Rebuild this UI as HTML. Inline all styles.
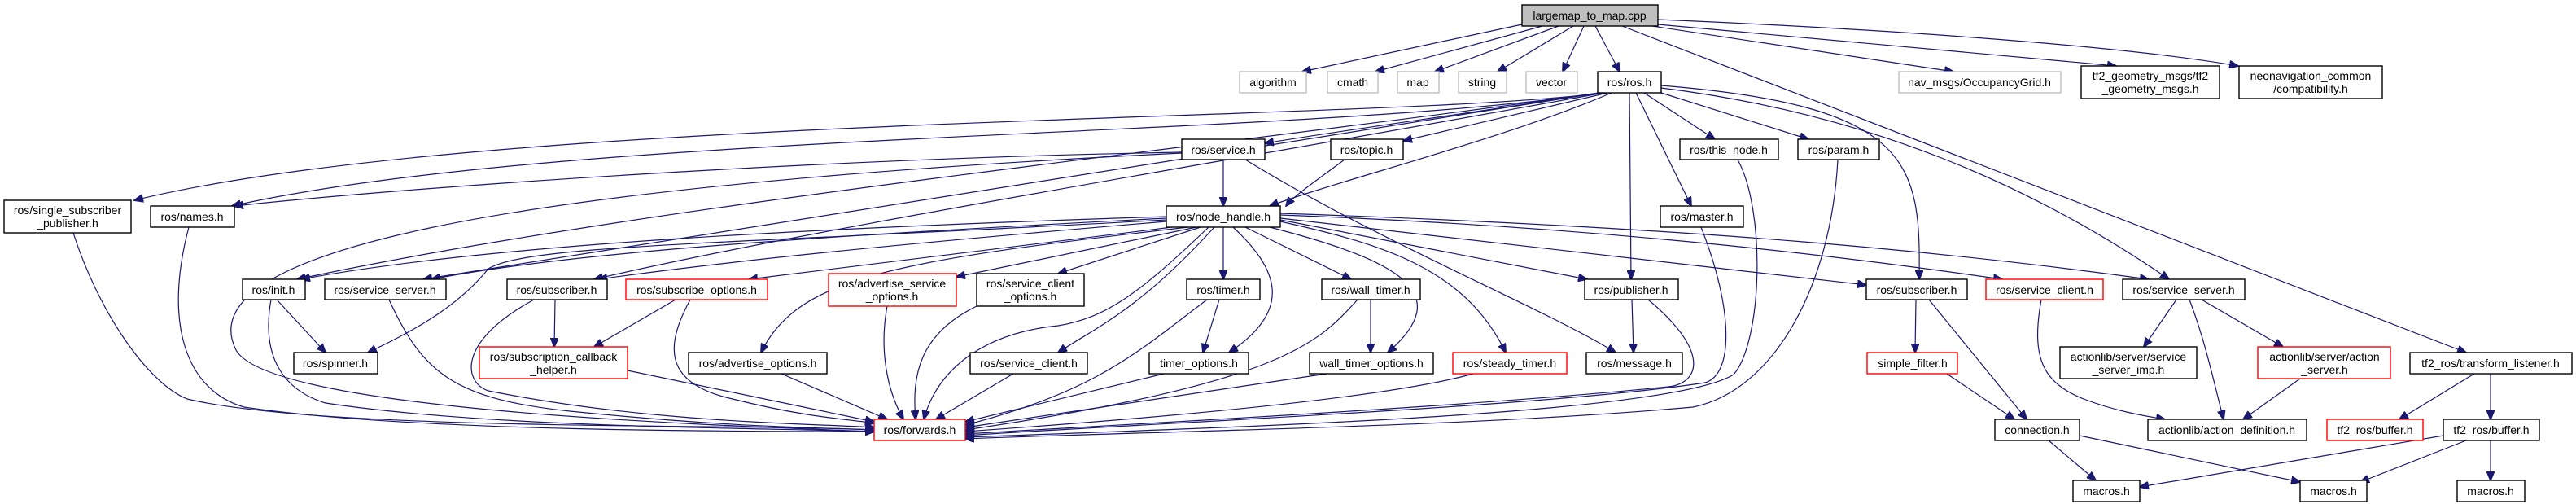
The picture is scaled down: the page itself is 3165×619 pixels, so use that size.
<!DOCTYPE html>
<html><head><meta charset="utf-8"><style>
html,body{margin:0;padding:0;background:#fff}
svg{display:block}
text{font-family:"Liberation Sans",sans-serif;font-size:14px;fill:#000}
.b{fill:#fff;stroke:#000;stroke-width:1.4}
.g{fill:#fff;stroke:#bfbfbf;stroke-width:1.4}
.r{fill:#fff;stroke:#ff0000;stroke-width:1.4}
.e{fill:none;stroke:#191970;stroke-width:1.2}
</style></head><body>
<svg width="3165" height="619" viewBox="0 0 3165 619" xmlns="http://www.w3.org/2000/svg">
<defs><marker id="a" markerUnits="userSpaceOnUse" markerWidth="12" markerHeight="10" refX="11" refY="5" orient="auto"><path d="M0,0 L12,5 L0,10 z" fill="#191970" stroke="#191970"/></marker></defs>
<g class="e" marker-end="url(#a)">
<path d="M1870,30 L1600,88"/>
<path d="M1895,32 L1690,88"/>
<path d="M1915,32 L1763,88"/>
<path d="M1933,32 L1840,88"/>
<path d="M1946,32 L1920,88"/>
<path d="M1960,32 L1990,88"/>
<path d="M2030,32 L2400,88"/>
<path d="M2037,30 L2600,81"/>
<path d="M2037,24 C2300,35 2600,55 2750,81"/>
<path d="M1993,32 L3030,433"/>
<path d="M1970,114 C1700,150 600,140 165,246"/>
<path d="M1965,114 C1600,170 700,160 285,253"/>
<path d="M1965,114 C1800,140 1650,160 1554,176"/>
<path d="M1975,114 L1724,173"/>
<path d="M1980,114 C1850,170 1650,220 1560,253"/>
<path d="M1965,114 C1500,180 800,250 365,343"/>
<path d="M1965,114 C1400,200 900,280 520,343"/>
<path d="M1970,114 C1500,200 1000,280 730,343"/>
<path d="M2002,114 L2004,343"/>
<path d="M2010,114 L2078,253"/>
<path d="M2020,114 L2107,171"/>
<path d="M2041,114 L2222,171"/>
<path d="M2041,105 C2350,130 2360,200 2358,343"/>
<path d="M2041,108 C2300,140 2500,230 2665,343"/>
<path d="M1652,196 C1620,220 1590,240 1580,253"/>
<path d="M1503,196 L1503,253"/>
<path d="M1452,187 C1000,195 500,230 288,253"/>
<path d="M1452,188 C600,230 230,310 290,430 C330,500 800,520 1074,530"/>
<path d="M1530,196 C1700,300 1900,380 1985,433"/>
<path d="M1433,266 C1000,280 600,300 370,343"/>
<path d="M1433,268 C1000,290 700,310 530,343"/>
<path d="M1433,270 C900,300 650,300 600,330 C560,380 500,410 452,433"/>
<path d="M1433,272 C1100,300 900,320 735,343"/>
<path d="M1440,279 L920,343"/>
<path d="M1460,279 C1100,320 980,340 935,433"/>
<path d="M1470,279 L1175,340"/>
<path d="M1475,279 L1300,336"/>
<path d="M1492,279 C1400,380 1350,400 1300,433"/>
<path d="M1503,279 L1503,343"/>
<path d="M1515,279 C1570,330 1590,380 1510,433"/>
<path d="M1485,279 C1400,360 1360,390 1300,400 C1200,410 1150,460 1135,515"/>
<path d="M1530,279 L1660,343"/>
<path d="M1560,279 C1720,320 1790,360 1705,433"/>
<path d="M1573,272 C1700,300 1800,330 1850,433"/>
<path d="M1573,270 L1950,343"/>
<path d="M1573,268 L2293,350"/>
<path d="M1573,264 C2000,280 2300,320 2460,343"/>
<path d="M1573,262 C2100,280 2400,310 2640,343"/>
<path d="M90,286 C120,380 180,470 230,490 C400,530 900,520 1074,528"/>
<path d="M232,279 C200,400 230,480 300,500 C500,530 900,530 1074,530"/>
<path d="M340,368 L400,433"/>
<path d="M333,368 C320,440 350,480 400,495 C600,525 900,525 1074,530"/>
<path d="M478,368 C520,460 560,490 700,505 C900,525 1000,525 1074,528"/>
<path d="M682,368 L681,426"/>
<path d="M656,368 C560,420 570,470 600,480 C800,520 1000,520 1074,525"/>
<path d="M830,368 L730,426"/>
<path d="M848,368 C820,420 810,470 900,490 C1000,515 1050,515 1074,520"/>
<path d="M771,455 L1074,518"/>
<path d="M960,459 L1090,515"/>
<path d="M1090,376 C1080,430 1090,480 1110,515"/>
<path d="M1200,376 C1130,410 1120,460 1125,515"/>
<path d="M1245,459 L1150,515"/>
<path d="M1498,368 L1478,433"/>
<path d="M1483,368 C1400,430 1350,480 1186,522"/>
<path d="M1430,459 L1186,518"/>
<path d="M1684,368 L1684,433"/>
<path d="M1668,368 C1620,420 1580,470 1186,528"/>
<path d="M1630,459 L1186,525"/>
<path d="M1810,459 C1700,490 1400,515 1186,530"/>
<path d="M2005,368 L2007,433"/>
<path d="M2025,368 C2100,430 2090,470 2050,475 C1800,500 1400,520 1186,533"/>
<path d="M2090,279 C2130,380 2130,460 2095,470 C1900,500 1400,520 1186,535"/>
<path d="M2135,196 C2170,260 2165,420 2130,460 C2050,510 1500,525 1186,537"/>
<path d="M2258,196 C2250,350 2180,480 2080,500 C1800,525 1400,530 1186,539"/>
<path d="M2354,368 L2353,433"/>
<path d="M2370,368 L2490,515"/>
<path d="M2392,459 L2475,515"/>
<path d="M2508,368 C2495,440 2510,470 2560,490 C2600,505 2630,510 2660,515"/>
<path d="M2674,368 L2634,426"/>
<path d="M2690,368 C2710,420 2720,470 2732,515"/>
<path d="M2705,368 L2805,426"/>
<path d="M2826,465 L2756,515"/>
<path d="M3040,459 L2948,515"/>
<path d="M3060,459 L3060,515"/>
<path d="M2517,541 L2575,590"/>
<path d="M2555,535 L2826,592"/>
<path d="M3002,535 L2629,598"/>
<path d="M3030,541 L2900,592"/>
<path d="M3060,541 L3060,590"/>
</g>
<g>
<rect x="1870" y="6" width="167" height="26" fill="#bfbfbf" stroke="#000" stroke-width="1.4"/><text x="1953" y="24" text-anchor="middle">largemap_to_map.cpp</text>
<rect class="g" x="1523" y="88" width="82" height="26"/><text x="1564" y="106" text-anchor="middle">algorithm</text>
<rect class="g" x="1631" y="88" width="62" height="26"/><text x="1662" y="106" text-anchor="middle">cmath</text>
<rect class="g" x="1717" y="88" width="51" height="26"/><text x="1742" y="106" text-anchor="middle">map</text>
<rect class="g" x="1792" y="88" width="59" height="26"/><text x="1821" y="106" text-anchor="middle">string</text>
<rect class="g" x="1875" y="88" width="63" height="26"/><text x="1906" y="106" text-anchor="middle">vector</text>
<rect class="b" x="1963" y="88" width="78" height="26"/><text x="2002" y="106" text-anchor="middle">ros/ros.h</text>
<rect class="g" x="2333" y="88" width="199" height="26"/><text x="2432" y="106" text-anchor="middle">nav_msgs/OccupancyGrid.h</text>
<rect class="b" x="2557" y="81" width="170" height="40"/><text x="2642" y="98" text-anchor="middle">tf2_geometry_msgs/tf2</text><text x="2642" y="114" text-anchor="middle">_geometry_msgs.h</text>
<rect class="b" x="2751" y="81" width="176" height="40"/><text x="2839" y="98" text-anchor="middle">neonavigation_common</text><text x="2839" y="114" text-anchor="middle">/compatibility.h</text>
<rect class="b" x="1452" y="171" width="102" height="25"/><text x="1503" y="189" text-anchor="middle">ros/service.h</text>
<rect class="b" x="1635" y="171" width="89" height="25"/><text x="1679" y="189" text-anchor="middle">ros/topic.h</text>
<rect class="b" x="2064" y="171" width="121" height="25"/><text x="2124" y="189" text-anchor="middle">ros/this_node.h</text>
<rect class="b" x="2209" y="171" width="100" height="25"/><text x="2259" y="189" text-anchor="middle">ros/param.h</text>
<rect class="b" x="5" y="246" width="156" height="40"/><text x="83" y="263" text-anchor="middle">ros/single_subscriber</text><text x="83" y="279" text-anchor="middle">_publisher.h</text>
<rect class="b" x="185" y="253" width="103" height="26"/><text x="236" y="271" text-anchor="middle">ros/names.h</text>
<rect class="b" x="1433" y="253" width="140" height="26"/><text x="1503" y="271" text-anchor="middle">ros/node_handle.h</text>
<rect class="b" x="2040" y="253" width="102" height="26"/><text x="2091" y="271" text-anchor="middle">ros/master.h</text>
<rect class="b" x="298" y="343" width="77" height="25"/><text x="336" y="361" text-anchor="middle">ros/init.h</text>
<rect class="b" x="399" y="343" width="149" height="25"/><text x="473" y="361" text-anchor="middle">ros/service_server.h</text>
<rect class="b" x="623" y="343" width="123" height="25"/><text x="684" y="361" text-anchor="middle">ros/subscriber.h</text>
<rect class="r" x="769" y="343" width="174" height="25"/><text x="856" y="361" text-anchor="middle">ros/subscribe_options.h</text>
<rect class="r" x="1018" y="336" width="157" height="40"/><text x="1096" y="353" text-anchor="middle">ros/advertise_service</text><text x="1096" y="369" text-anchor="middle">_options.h</text>
<rect class="b" x="1200" y="336" width="132" height="40"/><text x="1266" y="353" text-anchor="middle">ros/service_client</text><text x="1266" y="369" text-anchor="middle">_options.h</text>
<rect class="b" x="1458" y="343" width="90" height="25"/><text x="1503" y="361" text-anchor="middle">ros/timer.h</text>
<rect class="b" x="1624" y="343" width="121" height="25"/><text x="1684" y="361" text-anchor="middle">ros/wall_timer.h</text>
<rect class="b" x="1947" y="343" width="115" height="25"/><text x="2004" y="361" text-anchor="middle">ros/publisher.h</text>
<rect class="b" x="2293" y="343" width="124" height="25"/><text x="2355" y="361" text-anchor="middle">ros/subscriber.h</text>
<rect class="r" x="2440" y="343" width="144" height="25"/><text x="2512" y="361" text-anchor="middle">ros/service_client.h</text>
<rect class="b" x="2608" y="343" width="150" height="25"/><text x="2683" y="361" text-anchor="middle">ros/service_server.h</text>
<rect class="b" x="361" y="433" width="103" height="26"/><text x="412" y="451" text-anchor="middle">ros/spinner.h</text>
<rect class="r" x="589" y="426" width="182" height="39"/><text x="680" y="443" text-anchor="middle">ros/subscription_callback</text><text x="680" y="459" text-anchor="middle">_helper.h</text>
<rect class="b" x="846" y="433" width="170" height="26"/><text x="931" y="451" text-anchor="middle">ros/advertise_options.h</text>
<rect class="b" x="1192" y="433" width="144" height="26"/><text x="1264" y="451" text-anchor="middle">ros/service_client.h</text>
<rect class="b" x="1412" y="433" width="122" height="26"/><text x="1473" y="451" text-anchor="middle">timer_options.h</text>
<rect class="b" x="1609" y="433" width="152" height="26"/><text x="1685" y="451" text-anchor="middle">wall_timer_options.h</text>
<rect class="r" x="1785" y="433" width="140" height="26"/><text x="1855" y="451" text-anchor="middle">ros/steady_timer.h</text>
<rect class="b" x="1949" y="433" width="118" height="26"/><text x="2008" y="451" text-anchor="middle">ros/message.h</text>
<rect class="r" x="2294" y="433" width="111" height="26"/><text x="2350" y="451" text-anchor="middle">simple_filter.h</text>
<rect class="b" x="2531" y="426" width="168" height="39"/><text x="2615" y="443" text-anchor="middle">actionlib/server/service</text><text x="2615" y="459" text-anchor="middle">_server_imp.h</text>
<rect class="r" x="2774" y="426" width="163" height="39"/><text x="2856" y="443" text-anchor="middle">actionlib/server/action</text><text x="2856" y="459" text-anchor="middle">_server.h</text>
<rect class="b" x="2961" y="433" width="199" height="26"/><text x="3060" y="451" text-anchor="middle">tf2_ros/transform_listener.h</text>
<rect class="r" x="1074" y="515" width="112" height="26"/><text x="1130" y="533" text-anchor="middle">ros/forwards.h</text>
<rect class="b" x="2451" y="515" width="104" height="26"/><text x="2503" y="533" text-anchor="middle">connection.h</text>
<rect class="b" x="2639" y="515" width="195" height="26"/><text x="2736" y="533" text-anchor="middle">actionlib/action_definition.h</text>
<rect class="r" x="2859" y="515" width="118" height="26"/><text x="2918" y="533" text-anchor="middle">tf2_ros/buffer.h</text>
<rect class="b" x="3002" y="515" width="118" height="26"/><text x="3061" y="533" text-anchor="middle">tf2_ros/buffer.h</text>
<rect class="b" x="2547" y="590" width="82" height="26"/><text x="2588" y="608" text-anchor="middle">macros.h</text>
<rect class="b" x="2826" y="590" width="82" height="26"/><text x="2867" y="608" text-anchor="middle">macros.h</text>
<rect class="b" x="3019" y="590" width="83" height="26"/><text x="3060" y="608" text-anchor="middle">macros.h</text>
</g>
</svg>
</body></html>
